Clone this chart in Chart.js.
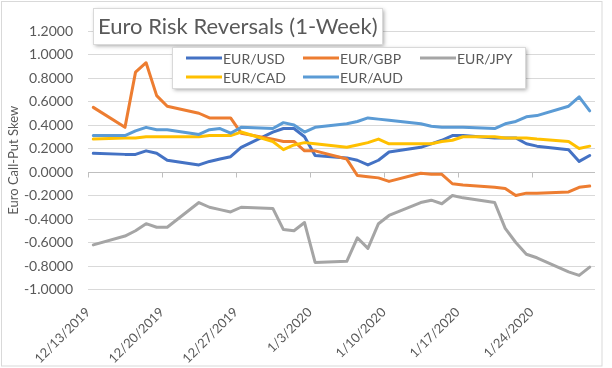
<!DOCTYPE html>
<html>
<head>
<meta charset="utf-8">
<title>Euro Risk Reversals (1-Week)</title>
<script src="https://cdn.jsdelivr.net/npm/chart.js@4"></script>
<style>
  body { margin: 0; background: #fff; }
  canvas { display: block; }
</style>
</head>
<body>
<canvas id="myChart" width="612" height="368"></canvas>
<script>
// trading days shown on the chart
const dates = [
  "2019-12-13", "2019-12-16", "2019-12-17", "2019-12-18", "2019-12-19", "2019-12-20",
  "2019-12-23", "2019-12-24", "2019-12-25", "2019-12-26", "2019-12-27",
  "2019-12-30", "2019-12-31", "2020-01-01", "2020-01-02", "2020-01-03",
  "2020-01-06", "2020-01-07", "2020-01-08", "2020-01-09", "2020-01-10",
  "2020-01-13", "2020-01-14", "2020-01-15", "2020-01-16", "2020-01-17",
  "2020-01-20", "2020-01-21", "2020-01-22", "2020-01-23", "2020-01-24",
  "2020-01-27", "2020-01-28", "2020-01-29"
];

const eurUsd = [0.16, 0.15, 0.15, 0.18, 0.16, 0.10, 0.06, 0.09, 0.11, 0.13, 0.21,
  0.34, 0.37, 0.37, 0.30, 0.14, 0.12, 0.10, 0.06, 0.10, 0.17,
  0.21, 0.24, 0.27, 0.31, 0.31, 0.29, 0.29, 0.29, 0.24, 0.22, 0.19, 0.09, 0.14];
const eurGbp = [0.55, 0.38, 0.85, 0.93, 0.65, 0.56, 0.50, 0.46, 0.46, 0.46, 0.33,
  0.28, 0.26, 0.26, 0.18, 0.18, 0.11, -0.03, -0.04, -0.05, -0.08,
  -0.01, -0.02, -0.02, -0.10, -0.11, -0.13, -0.14, -0.20, -0.18, -0.18, -0.17, -0.13, -0.12];
const eurJpy = [-0.62, -0.545, -0.50, -0.44, -0.47, -0.47, -0.26, -0.30, -0.32, -0.34, -0.30,
  -0.31, -0.49, -0.50, -0.43, -0.77, -0.76, -0.56, -0.65, -0.44, -0.37,
  -0.26, -0.24, -0.27, -0.20, -0.22, -0.26, -0.48, -0.60, -0.70, -0.73, -0.85, -0.88, -0.81];
const eurCad = [0.28, 0.29, 0.29, 0.30, 0.30, 0.30, 0.30, 0.31, 0.31, 0.31, 0.34,
  0.26, 0.19, 0.23, 0.25, 0.24, 0.21, 0.23, 0.25, 0.28, 0.24,
  0.24, 0.24, 0.26, 0.27, 0.30, 0.30, 0.29, 0.29, 0.29, 0.28, 0.26, 0.20, 0.22];
const eurAud = [0.31, 0.31, 0.35, 0.38, 0.36, 0.36, 0.32, 0.36, 0.37, 0.33, 0.38,
  0.37, 0.42, 0.40, 0.34, 0.38, 0.41, 0.43, 0.46, 0.45, 0.44,
  0.41, 0.39, 0.38, 0.38, 0.38, 0.37, 0.41, 0.43, 0.47, 0.48, 0.56, 0.64, 0.52];

const seriesNames = ["EUR/USD", "EUR/GBP", "EUR/JPY", "EUR/CAD", "EUR/AUD"];
const seriesColors = ["#4472C4", "#ED7D31", "#A5A5A5", "#FFC000", "#5B9BD5"];

const tickDates = ["2019-12-13", "2019-12-20", "2019-12-27", "2020-01-03",
  "2020-01-10", "2020-01-17", "2020-01-24"];
const tickLabels = ["12/13/2019", "12/20/2019", "12/27/2019", "1/3/2020",
  "1/10/2020", "1/17/2020", "1/24/2020"];

const FONT = "Lato, 'Open Sans', sans-serif";
const TEXT = "#595959";

// days since first date; each day is one slot, points sit in the middle of it
function dayOf(d) {
  return (Date.parse(d) - Date.parse(dates[0])) / 86400000;
}
const xs = dates.map((d) => dayOf(d) + 0.5);
const tickDays = tickDates.map(dayOf);

const allValues = [eurUsd, eurGbp, eurJpy, eurCad, eurAud];
const datasets = allValues.map((vals, i) => ({
  label: seriesNames[i],
  data: vals.map((v, j) => ({ x: xs[j], y: v })),
  borderColor: seriesColors[i],
  backgroundColor: seriesColors[i],
  borderWidth: 3,
  borderJoinStyle: "round",
  borderCapStyle: "round",
  pointRadius: 0,
  tension: 0,
  fill: false,
  order: seriesNames.length - i, // later series on top, like Excel
}));

// white page with thin grey frame
const framePlugin = {
  id: "frame",
  beforeDraw(chart) {
    const ctx = chart.ctx;
    ctx.save();
    ctx.fillStyle = "#fff";
    ctx.fillRect(0, 0, chart.width, chart.height);
    ctx.strokeStyle = "#D9D9D9";
    ctx.lineWidth = 1;
    ctx.strokeRect(1.5, 1.5, 600.5, 364.5);
    ctx.restore();
  },
};

// horizontal axis crosses at 0 with small tick marks
const zeroAxisPlugin = {
  id: "zeroAxis",
  beforeDatasetsDraw(chart) {
    const { ctx, chartArea, scales } = chart;
    const y0 = Math.round(scales.y.getPixelForValue(0)) + 0.5;
    ctx.save();
    ctx.strokeStyle = "#BFBFBF";
    ctx.lineWidth = 1;
    ctx.beginPath();
    ctx.moveTo(chartArea.left, y0);
    ctx.lineTo(chartArea.right, y0);
    scales.x.ticks.forEach((t) => {
      const x = Math.round(scales.x.getPixelForValue(t.value)) + 0.5;
      ctx.moveTo(x, y0);
      ctx.lineTo(x, y0 + 5);
    });
    ctx.stroke();
    ctx.restore();
  },
};

function shadowBox(ctx, x, y, w, h) {
  ctx.save();
  ctx.shadowColor = "rgba(0,0,0,0.35)";
  ctx.shadowBlur = 4;
  ctx.shadowOffsetX = 2;
  ctx.shadowOffsetY = 2;
  ctx.fillStyle = "#fff";
  ctx.fillRect(x, y, w, h);
  ctx.restore();
  ctx.save();
  ctx.strokeStyle = "#D9D9D9";
  ctx.lineWidth = 1;
  ctx.strokeRect(x + 0.5, y + 0.5, w, h);
  ctx.restore();
}

// title and legend sit in boxes over the plot
const boxesPlugin = {
  id: "boxes",
  afterDraw(chart) {
    const ctx = chart.ctx;
    shadowBox(ctx, 93, 8, 289, 36);
    ctx.save();
    ctx.fillStyle = TEXT;
    ctx.font = "22px " + FONT;
    ctx.textBaseline = "middle";
    ctx.textAlign = "left";
    ctx.fillText("Euro Risk Reversals (1-Week)", 98, 27);
    ctx.restore();

    shadowBox(ctx, 172, 47, 353, 41);
    const cols = [186, 303, 420];
    const rows = [58, 77];
    chart.data.datasets.forEach((ds, i) => {
      const x = cols[i % 3];
      const y = rows[Math.floor(i / 3)];
      ctx.save();
      ctx.strokeStyle = ds.borderColor;
      ctx.lineWidth = 3;
      ctx.beginPath();
      ctx.moveTo(x, y);
      ctx.lineTo(x + 36, y);
      ctx.stroke();
      ctx.fillStyle = TEXT;
      ctx.font = "14px " + FONT;
      ctx.textBaseline = "middle";
      ctx.fillText(ds.label, x + 37, y + 1);
      ctx.restore();
    });
  },
};

const ctx = document.getElementById("myChart").getContext("2d");
new Chart(ctx, {
  type: "line",
  data: { datasets: datasets },
  plugins: [framePlugin, zeroAxisPlugin, boxesPlugin],
  options: {
    responsive: false,
    animation: false,
    layout: { padding: { top: 31, right: 17, left: 0, bottom: 0 } },
    plugins: {
      legend: { display: false },
      title: { display: false },
      tooltip: { enabled: false },
    },
    scales: {
      x: {
        type: "linear",
        min: 0,
        max: 48,
        afterBuildTicks: (scale) => {
          scale.ticks = tickDays.map((v) => ({ value: v }));
        },
        afterFit: (scale) => {
          scale.height = 78.5;
        },
        grid: { display: false },
        border: { display: false },
        ticks: {
          autoSkip: false,
          maxRotation: 45,
          minRotation: 45,
          padding: 7,
          color: TEXT,
          font: { family: FONT, size: 13 },
          callback: (value, index) => tickLabels[index],
        },
      },
      y: {
        min: -1,
        max: 1.2,
        afterFit: (scale) => {
          scale.width = 88;
        },
        grid: { color: "#D9D9D9", drawTicks: false },
        border: { display: false },
        ticks: {
          stepSize: 0.2,
          padding: 15,
          color: TEXT,
          font: { family: FONT, size: 14 },
          callback: (v) => v.toFixed(4),
        },
        title: {
          display: true,
          text: "Euro Call-Put Skew",
          color: TEXT,
          font: { family: FONT, size: 13 },
          padding: { top: 6, bottom: 0 },
        },
      },
    },
  },
});
</script>
</body>
</html>
